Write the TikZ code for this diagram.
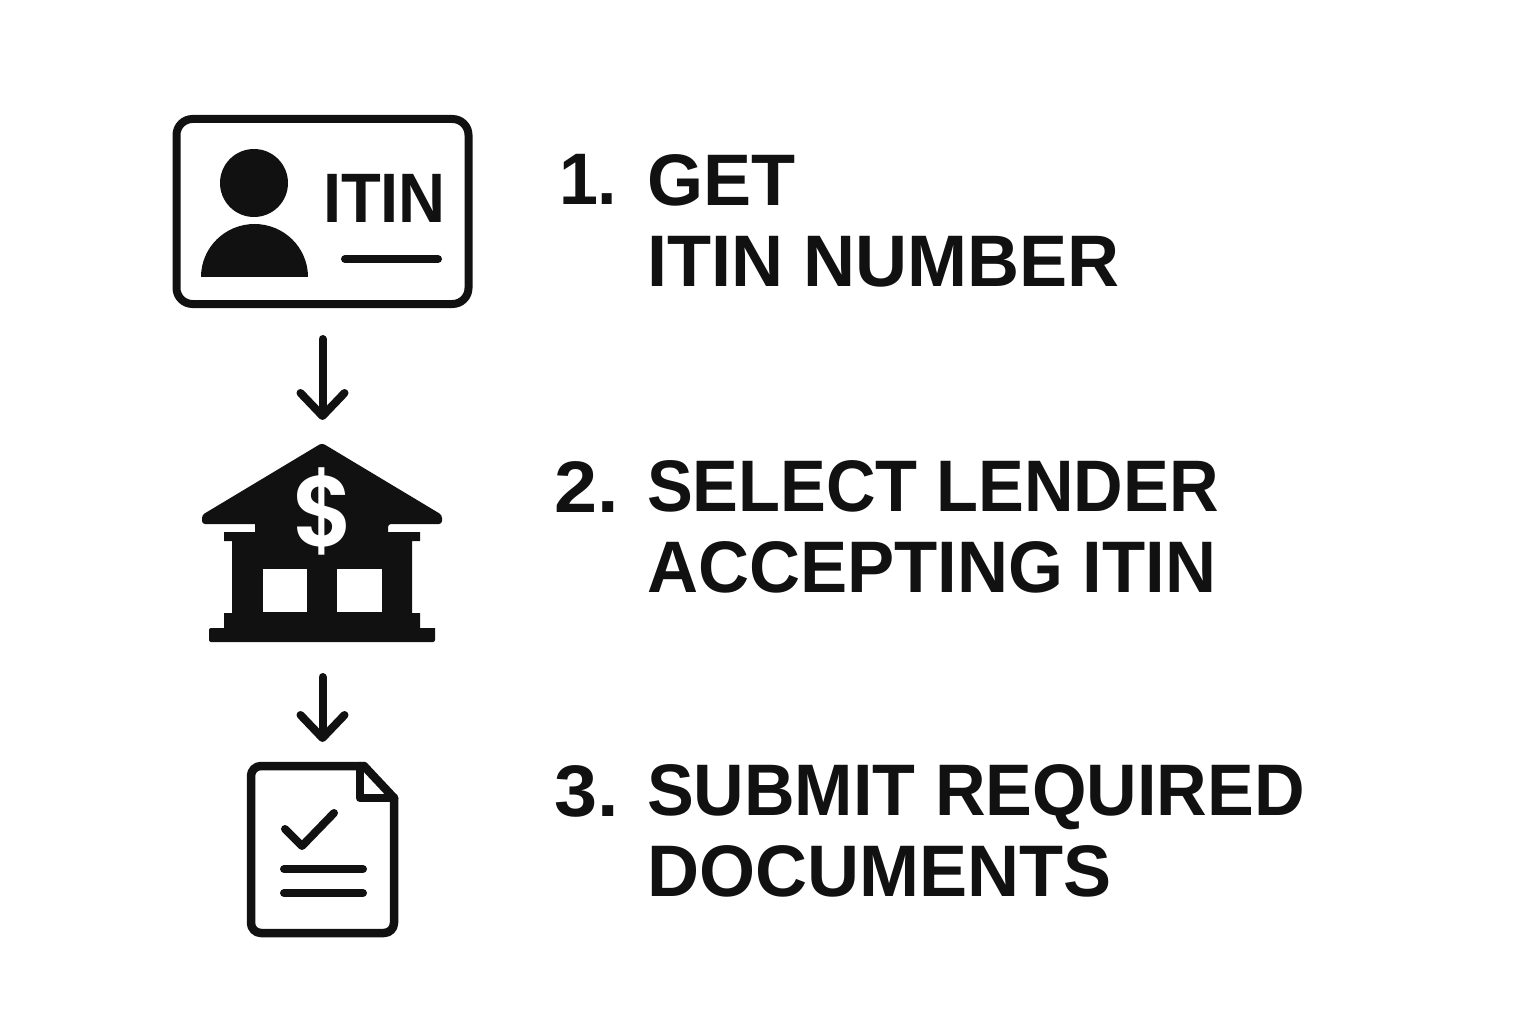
\documentclass[tikz,border=0pt]{standalone}
\usepackage{fontspec}
\usetikzlibrary{arrows.meta}
\setmainfont{Liberation Sans}
\newfontfamily\lab{Liberation Sans}[FakeStretch=0.96]
\newfontfamily\labwide{Liberation Sans}[FakeStretch=0.987]
\newfontfamily\labnarrow{Liberation Sans}[FakeStretch=0.94]
\newfontfamily\labmid{Liberation Sans}[FakeStretch=0.968]
\newfontfamily\numf{Liberation Sans}[FakeStretch=1.06]
\newfontfamily\tight{Liberation Sans}[FakeStretch=0.93]
\newfontfamily\dollarf{Poppins SemiBold}[FakeStretch=0.95]
\definecolor{ink}{HTML}{111111}
\tikzset{
  x=1pt,y=-1pt,
  iconline/.style={draw=ink,line width=8pt,line cap=round,line join=round},
  docline/.style={draw=ink,line width=8.5pt,line cap=round,line join=round},
  flowarrow/.style={draw=ink,line width=8pt,line cap=round,-{Straight Barb[length=23pt,width=44pt,round,line width=8pt]}},
  bound/.style={inner sep=0pt,outer sep=0pt},
  steptext/.style={inner sep=0pt,outer sep=0pt,anchor=base west,align=left,text=ink,font={\lab\bfseries\fontsize{73}{81}\selectfont}},
  stepnum/.style={inner sep=0pt,outer sep=0pt,anchor=base west,text=ink,font={\numf\bfseries\fontsize{73}{81}\selectfont}},
}
\newcommand{\wideline}{\labwide\bfseries\fontsize{73}{81}\selectfont}
\newcommand{\narrowline}{\labnarrow\bfseries\fontsize{73}{81}\selectfont}
\newcommand{\midline}{\labmid\bfseries\fontsize{73}{81}\selectfont}
\begin{document}
\begin{tikzpicture}
\fill[white] (0,0) rectangle (1536,1024);
\useasboundingbox (0,0) rectangle (1536,1024);
% card
\node[bound,draw=ink,line width=8pt,rounded corners=16pt,minimum width=292pt,minimum height=185pt] (card) at (322.5,211.5) {};
\fill[ink] (254,183) circle[radius=34pt];
\fill[ink] (201,277) arc[start angle=180,end angle=0,x radius=53.5pt,y radius=53pt] -- cycle;
\node[bound,text=ink,font={\tight\bfseries\fontsize{70}{70}\selectfont},anchor=base west] (cardlabel) at (323,223) {ITIN};
\draw[iconline] (345,259) -- (438,259);
% bank
\node[bound,minimum width=233pt,minimum height=198pt] (bank) at (322.5,543) {};
\fill[ink,rounded corners=3pt]
  (322,443) -- (442,515) -- (442,524) -- (388,524) [sharp corners] -- (388,532) -- (420,532) -- (420,541) -- (412,541)
  -- (412,613) -- (420,613) -- (420,628) -- (435,628) [rounded corners=2pt] -- (435,642) -- (209,642) -- (209,628) [sharp corners] -- (224,628)
  -- (224,613) -- (232,613) -- (232,541) -- (224,541) -- (224,532) -- (255,532) -- (255,524) [rounded corners=3pt] -- (202,524)
  -- (202,515) -- cycle;
\fill[white] (263,569) rectangle (307,612);
\fill[white] (337,569) rectangle (382,612);
\node[bound,text=white,font={\dollarf\fontsize{100}{100}\selectfont}] (dollar) at (323.5,511) {\$};
% document
\node[bound,minimum width=143pt,minimum height=167pt] (doc) at (322.5,849.5) {};
\draw[docline,rounded corners=10pt] (364,766) -- (251,766) -- (251,933) -- (394,933) -- (394,798);
\draw[docline] (394,798) -- (364,766);
\draw[docline] (360,766) -- (360,798) -- (394,798);
\draw[iconline] (285,829) -- (302,846) -- (334,813);
\draw[iconline] (284,869) -- (363,869);
\draw[iconline] (284,893) -- (363,893);
% connectors
\draw[flowarrow,shorten <=35pt,shorten >=24pt] (card.south) -- (bank.north);
\draw[flowarrow,shorten <=35pt,shorten >=24pt] (bank.south) -- (doc.north);
% labels
\node[stepnum,font={\lab\bfseries\fontsize{73}{81}\selectfont}] (n1) at (559,205) {1.};
\node[steptext] (t1) at (647,287) {\wideline GET\\\wideline ITIN NUMBER};
\node[stepnum] (n2) at (554,512) {2.};
\node[steptext] (t2) at (647,592) {\narrowline SELECT LENDER\\\midline ACCEPTING ITIN};
\node[stepnum] (n3) at (554,816) {3.};
\node[steptext] (t3) at (647,896) {SUBMIT REQUIRED\\\wideline DOCUMENTS};
\end{tikzpicture}
\end{document}
